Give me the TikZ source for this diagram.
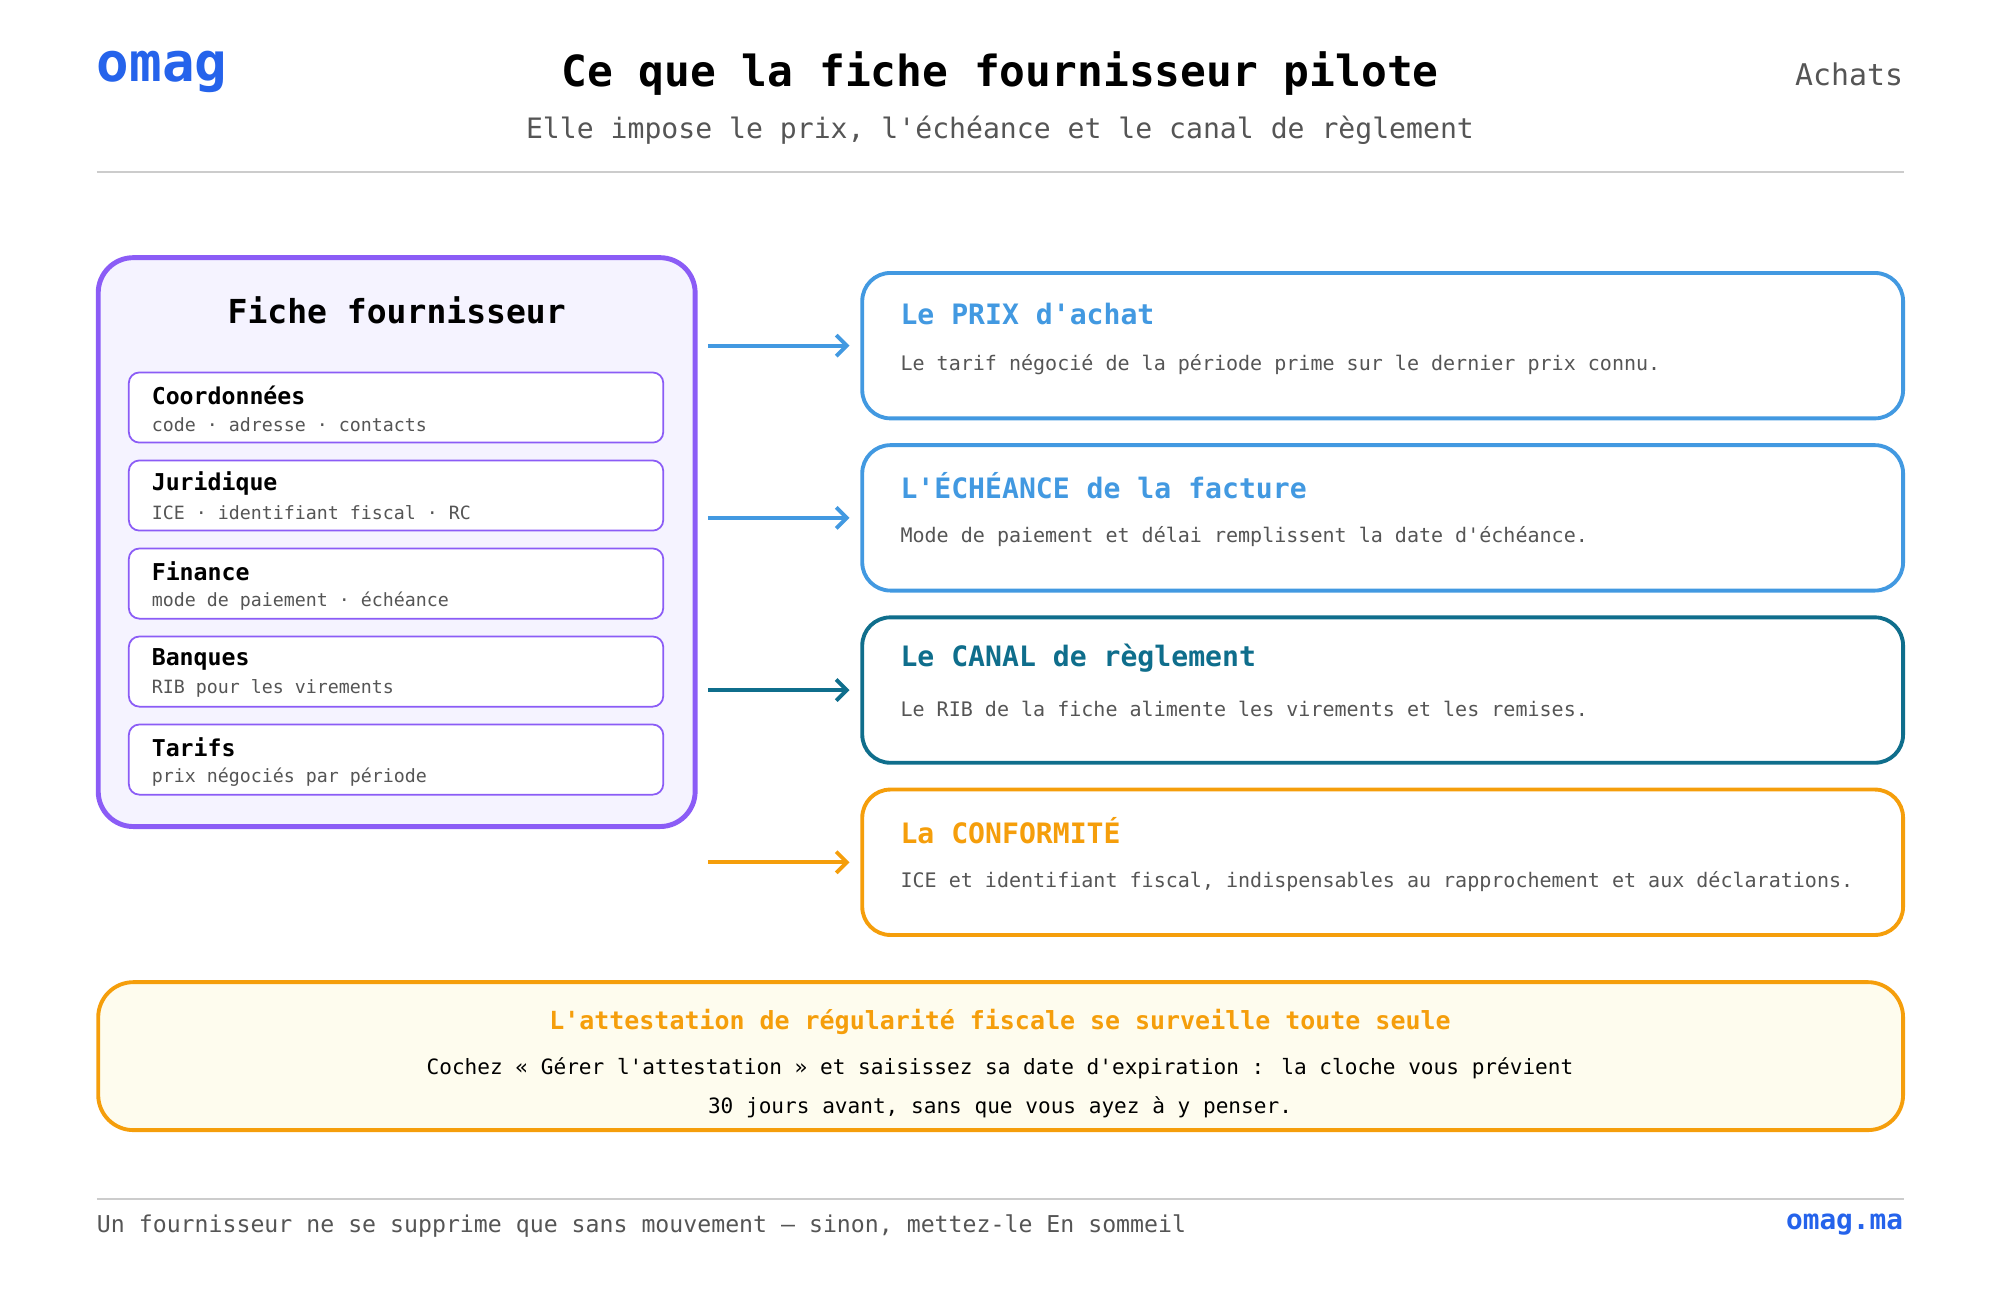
\documentclass[tikz,border=0pt]{standalone}
\usepackage{fontspec}
\setmainfont{DejaVu Sans Mono}[Ligatures=TeXOff]
\usetikzlibrary{positioning,arrows.meta}
\definecolor{brand}{HTML}{2563EB}
\definecolor{violet}{HTML}{8B5CF6}
\definecolor{violetbg}{HTML}{F5F3FF}
\definecolor{sky}{HTML}{4299E1}
\definecolor{teal}{HTML}{0F6E8C}
\definecolor{amber}{HTML}{F59E0B}
\definecolor{amberbg}{HTML}{FEFCEE}
\definecolor{muted}{HTML}{555555}
\definecolor{rule}{HTML}{CCCCCC}
\newcommand{\fs}[1]{\fontsize{#1}{#1}\selectfont}
\def\u{0.012755cm}
\begin{document}
\begin{tikzpicture}[x=\u,y=-\u,outer sep=0pt,
  item/.style={draw=violet,line width=0.5pt,fill=white,rounded corners=3pt,
    minimum width=419*\u,minimum height=55*\u,anchor=north west},
  card/.style={draw=#1,line width=1.1pt,fill=white,rounded corners=8pt,
    minimum width=816*\u,minimum height=114*\u,anchor=north west},
  ctitle/.style={anchor=west,inner sep=0pt,font=\fs{8}\bfseries,text=#1},
  cdesc/.style={anchor=west,inner sep=0pt,font=\fs{5.7},text=muted},
  link/.style={-{Straight Barb[length=3pt,width=6pt]},line width=1.1pt,draw=#1,shorten >=10*\u},
  ititle/.style={anchor=west,inner sep=0pt,font=\fs{6.6}\bfseries},
  isub/.style={anchor=west,inner sep=0pt,font=\fs{5.2},text=muted}]

  \useasboundingbox (0,0) rectangle (1568,1019);

  % header
  \node[anchor=west,inner sep=0pt,font=\fs{15.4}\bfseries,text=brand] (logo) at (76,56) {omag};
  \node[font=\fs{12.2}\bfseries] (title) at (784,58) {Ce que la fiche fournisseur pilote};
  \node[font=\fs{8},text=muted] (subtitle) at (784,102) {Elle impose le prix, l'échéance et le canal de règlement};
  \node[anchor=east,inner sep=0pt,font=\fs{8.5},text=muted] (section) at (1492,58) {Achats};
  \draw[rule] (76,135) -- (1493,135);

  % fiche
  \node[draw=violet,line width=1.4pt,fill=violetbg,rounded corners=10pt,anchor=north west,
    minimum width=468*\u,minimum height=446*\u] (fiche) at (77,202) {};
  \node[font=\fs{9.4}\bfseries] (ftitle) at (311,243) {Fiche fournisseur};
  \foreach \y/\n/\t/\s in {292/coord/Coordonnées/code · adresse · contacts,
      361/jur/Juridique/ICE · identifiant fiscal · RC,
      430/fin/Finance/mode de paiement · échéance,
      499/bank/Banques/RIB pour les virements,
      568/tarif/Tarifs/prix négociés par période} {
    \node[item] (\n) at (101,\y) {};
    \node[ititle] at (119,\y+18) {\t};
    \node[isub] at (119,\y+41) {\s};
  }

  % cards
  \foreach \y/\n/\c/\t/\d in {214/prix/sky/Le PRIX d'achat/Le tarif négocié de la période prime sur le dernier prix connu.,
      349/ech/sky/L'ÉCHÉANCE de la facture/Mode de paiement et délai remplissent la date d'échéance.,
      484/canal/teal/Le CANAL de règlement/Le RIB de la fiche alimente les virements et les remises.,
      619/conf/amber/La CONFORMITÉ/{ICE et identifiant fiscal, indispensables au rapprochement et aux déclarations.}} {
    \node[card=\c] (\n) at (676,\y) {};
    \node[ctitle=\c] at (706,\y+32) {\t};
    \node[cdesc] at (706,\y+72) {\d};
    \coordinate (from-\n) at (555,0 |- \n.west);
    \draw[link=\c] (from-\n) -- (\n.west);
  }

  % note
  \node[draw=amber,line width=1.1pt,fill=amberbg,rounded corners=10pt,anchor=north west,
    minimum width=1415*\u,minimum height=116*\u] (note) at (77,770) {};
  \node[font=\fs{7.1}\bfseries,text=amber] (ntitle) at (784,801) {L'attestation de régularité fiscale se surveille toute seule};
  \node[font=\fs{6},align=center] (nbody) at (784,853)
    {Cochez « Gérer l'attestation » et saisissez sa date d'expiration : la cloche vous prévient\\[4pt]30 jours avant, sans que vous ayez à y penser.};

  % footer
  \draw[rule] (76,940) -- (1493,940);
  \node[anchor=west,inner sep=0pt,font=\fs{6.6},text=muted] (foot) at (76,961) {Un fournisseur ne se supprime que sans mouvement — sinon, mettez-le En sommeil};
  \node[anchor=east,inner sep=0pt,font=\fs{7.9}\bfseries,text=brand] (url) at (1492,960) {omag.ma};
\end{tikzpicture}
\end{document}
